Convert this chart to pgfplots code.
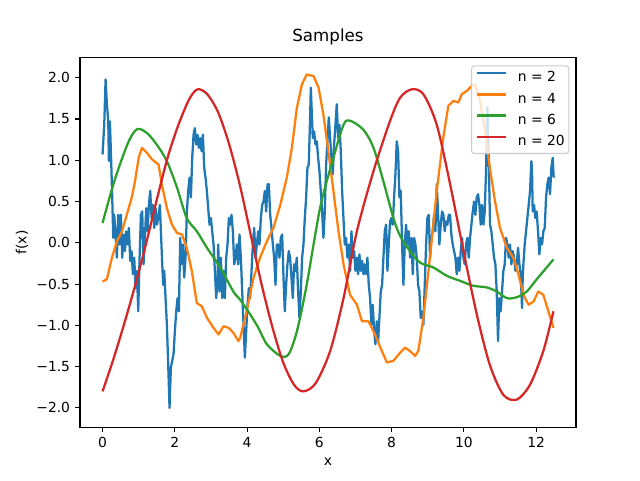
\documentclass[border=0pt]{standalone}
\usepackage{pgfplots}
\pgfplotsset{compat=1.18}
\usepackage{fontspec}
\setmainfont{DejaVu Sans}
\definecolor{c0}{HTML}{1F77B4}
\definecolor{c1}{HTML}{FF7F0E}
\definecolor{c2}{HTML}{2CA02C}
\definecolor{c3}{HTML}{D62728}
\newcommand{\tickfont}{\fontsize{10.4}{12.5}\selectfont}
\begin{document}
\begin{tikzpicture}[x=1pt,y=1pt]
\useasboundingbox (0,0) rectangle (480,360);
\begin{axis}[
  at={(60pt,39.6pt)}, anchor=south west,
  width=372pt, height=277.2pt, scale only axis,
  xmin=-0.624, xmax=13.104, ymin=-2.234, ymax=2.244,
  axis line style={line width=0.83pt},
  tick align=outside, tick pos=left,
  tick style={line width=0.83pt, black},
  major tick length=3.65pt,
  xtick={0,2,4,6,8,10,12}, xticklabels={0,2,4,6,8,10,12},
  ytick={-2,-1.5,-1,-0.5,0,0.5,1,1.5,2},
  yticklabels={−2.0,−1.5,−1.0,−0.5,0.0,0.5,1.0,1.5,2.0},
  tick label style={font=\tickfont},
  xticklabel style={inner sep=0pt, anchor=north, yshift=-3.6pt},
  yticklabel style={inner sep=0pt, anchor=east, xshift=-3.6pt},
  title={Samples},
  title style={at={(axis description cs:0.5,1.0225)}, anchor=base, inner sep=0pt, font=\fontsize{12.5}{15}\selectfont},
  xlabel={x},
  xlabel style={at={(axis description cs:0.5,-0.1025)}, anchor=base, inner sep=0pt, font=\tickfont},
  ylabel={f(x)},
  ylabel style={at={(axis description cs:-0.117,0.5)}, anchor=center, inner sep=0pt, font=\tickfont},
  legend cell align=left,
  legend style={at={(axis description cs:1,1)}, anchor=north east, xshift=-5pt, yshift=-5.8pt,
    draw=black!20, line width=0.8pt, rounded corners=2pt, fill=white, fill opacity=0.8, text opacity=1,
    font=\tickfont, inner xsep=3pt, inner ysep=4pt, row sep=5.9pt,
    nodes={inner sep=0pt, text height=8pt, text depth=2pt},
    /tikz/every odd column/.append style={column sep=8pt}},
  legend image code/.code={\draw[#1, line width=1.7pt] (0pt,3.5pt) -- (22pt,3.5pt);},
  every axis plot/.append style={line width=1.7pt, line join=round},
]
\addplot[c0] coordinates {
(0.000,1.07) (0.047,1.43) (0.084,1.98) (0.121,1.68) (0.158,1.47) (0.176,0.99) (0.204,1.47) (0.231,1.11) (0.268,0.55) (0.296,0.06) (0.323,0.34) (0.360,0.10) (0.397,-0.18) (0.434,0.34) (0.471,-0.02) (0.508,0.34) (0.545,-0.18) (0.582,0.10) (0.619,-0.10) (0.655,0.14) (0.692,-0.02) (0.729,0.18) (0.766,-0.22) (0.803,-0.10) (0.840,-0.38) (0.877,-0.18) (0.914,-0.55) (0.951,-0.34) (0.988,-0.83) (1.025,-0.18) (1.061,0.34) (1.098,0.38) (1.135,-0.26) (1.172,0.06) (1.209,0.42) (1.246,0.14) (1.283,0.46) (1.320,0.63) (1.357,0.30) (1.394,0.46) (1.431,0.18) (1.467,0.42) (1.504,0.22)
(1.541,0.30) (1.587,0.46) (1.615,0.14) (1.652,-0.26) (1.679,-0.51) (1.707,-0.34) (1.744,-0.67) (1.781,-0.99) (1.818,-1.48) (1.854,-2.00) (1.891,-1.51) (1.928,-1.43) (1.965,-1.35) (2.002,-1.07) (2.039,-0.83) (2.076,-0.67) (2.113,-0.83) (2.150,0.06) (2.186,-0.26) (2.223,-0.02) (2.260,-0.42) (2.297,-0.18) (2.334,0.38) (2.371,0.63) (2.408,0.79) (2.445,0.55) (2.482,1.03) (2.519,1.31) (2.555,1.39) (2.592,1.19) (2.629,1.31) (2.666,1.15) (2.703,1.27) (2.740,1.11) (2.777,1.31) (2.814,0.91) (2.850,0.79) (2.887,0.63) (2.924,0.42) (2.961,0.22) (2.998,0.30) (3.035,0.14) (3.072,-0.02) (3.109,-0.34) (3.146,-0.67) (3.183,-0.46)
(3.201,-0.02) (3.238,-0.59) (3.275,-0.18) (3.312,-0.67) (3.349,-0.34) (3.385,-0.67) (3.422,-0.18) (3.459,-0.02) (3.496,0.30) (3.533,0.22) (3.570,0.34) (3.607,0.14) (3.644,-0.26) (3.680,-0.18) (3.717,-0.02) (3.754,-0.26) (3.791,0.10) (3.828,-0.18) (3.865,-0.59) (3.902,-0.99) (3.939,-1.39) (3.976,-1.07) (4.012,-0.75) (4.049,-0.55) (4.086,-0.67) (4.123,-0.34) (4.160,-0.02) (4.197,0.18) (4.234,-0.18) (4.271,-0.02) (4.308,0.14) (4.344,-0.02) (4.381,0.30) (4.418,0.46) (4.455,0.50) (4.492,0.63) (4.529,0.38) (4.566,0.71) (4.603,0.71) (4.640,0.34) (4.676,0.18) (4.713,-0.02) (4.750,-0.18) (4.787,-0.51) (4.824,-0.02)
(4.860,-0.02) (4.897,-0.18) (4.934,0.06) (4.971,0.10) (5.008,-0.42) (5.044,-0.83) (5.081,-0.51) (5.118,-0.26) (5.155,-0.10) (5.192,-0.18) (5.229,-0.42) (5.266,-0.67) (5.303,-0.26) (5.340,-0.34) (5.376,-0.18) (5.413,-0.59) (5.450,-0.91) (5.487,-0.59) (5.524,-0.18) (5.561,-0.02) (5.598,0.30) (5.635,0.55) (5.671,0.91) (5.708,0.95) (5.745,1.52) (5.764,1.88) (5.782,1.68) (5.819,1.27) (5.856,1.35) (5.893,1.19) (5.930,1.23) (5.967,1.03) (6.003,0.87) (6.040,0.63) (6.077,0.38) (6.114,0.06) (6.151,0.38) (6.188,0.95) (6.225,1.23) (6.262,1.52) (6.299,1.27) (6.335,1.03) (6.372,0.83) (6.409,1.19) (6.446,1.43) (6.483,1.68)
(6.520,1.27) (6.557,1.43) (6.594,1.11) (6.631,0.63) (6.668,0.30) (6.704,-0.02) (6.741,0.06) (6.778,-0.18) (6.815,-0.02) (6.852,-0.34) (6.889,0.14) (6.926,-0.18) (6.963,-0.10) (7.000,-0.34) (7.036,-0.18) (7.073,-0.38) (7.110,-0.14) (7.147,-0.34) (7.184,-0.22) (7.221,-0.38) (7.258,-0.26) (7.295,-0.38) (7.331,-0.18) (7.368,-0.51) (7.405,-0.67) (7.442,-0.99) (7.479,-0.75) (7.516,-1.07) (7.553,-1.23) (7.590,-0.95) (7.627,-1.19) (7.663,-0.91) (7.700,-0.59) (7.737,-0.51) (7.774,-0.18) (7.811,0.14) (7.848,0.22) (7.885,-0.34) (7.922,-0.02) (7.958,0.26) (7.995,0.30) (8.032,0.22) (8.069,0.55) (8.106,0.83) (8.143,1.23)
(8.180,1.11) (8.217,0.55) (8.254,0.63) (8.291,-0.02) (8.328,-0.51) (8.364,-0.02) (8.401,0.22) (8.438,-0.02) (8.475,0.14) (8.512,-0.18) (8.549,0.06) (8.586,-0.38) (8.623,0.06) (8.659,-0.02) (8.696,-0.18) (8.733,-0.51) (8.770,-0.59) (8.807,-0.91) (8.844,-0.83) (8.881,-0.99) (8.918,-0.51) (8.955,-0.02) (8.991,0.30) (9.028,0.34) (9.065,-0.18) (9.102,0.06) (9.139,0.14) (9.176,0.34) (9.213,0.14) (9.250,0.71) (9.287,0.34) (9.323,-0.02) (9.360,0.22) (9.397,0.38) (9.434,0.34) (9.471,0.14) (9.508,0.26) (9.545,0.22) (9.582,0.34) (9.618,0.34) (9.655,0.10) (9.692,-0.02) (9.729,-0.10) (9.766,-0.18) (9.803,-0.38)
(9.840,-0.18) (9.877,-0.34) (9.914,-0.10) (9.951,0.06) (9.988,-0.18) (10.024,-0.26) (10.061,-0.02) (10.098,0.06) (10.135,-0.18) (10.172,0.06) (10.209,0.22) (10.246,0.38) (10.283,0.50) (10.319,0.34) (10.356,0.55) (10.393,0.59) (10.430,0.46) (10.467,0.22) (10.504,0.46) (10.541,0.22) (10.578,0.38) (10.614,0.87) (10.651,1.64) (10.670,1.31) (10.688,1.03) (10.725,0.22) (10.762,0.14) (10.799,-0.02) (10.836,-0.18) (10.873,-0.26) (10.910,-0.59) (10.946,-1.19) (10.983,-0.67) (11.020,-0.83) (11.057,-0.59) (11.094,-0.34) (11.131,-0.26) (11.168,0.06) (11.205,-0.02) (11.242,-0.18) (11.278,-0.02) (11.315,-0.26) (11.352,-0.10) (11.389,-0.18) (11.426,-0.34) (11.463,-0.26)
(11.500,-0.06) (11.537,-0.26) (11.574,-0.38) (11.611,-0.79) (11.629,-0.42) (11.648,-0.26) (11.684,-0.02) (11.721,0.14) (11.758,0.30) (11.795,0.46) (11.832,0.63) (11.869,0.99) (11.887,0.87) (11.906,0.38) (11.943,0.46) (11.979,0.30) (12.016,0.38) (12.053,0.14) (12.090,-0.14) (12.127,0.06) (12.164,-0.02) (12.201,0.14) (12.238,0.18) (12.275,0.55) (12.311,0.71) (12.348,0.79) (12.385,0.59) (12.422,0.91) (12.459,1.03) (12.487,0.79)
};
\addlegendentry{n = 2}
\addplot[c1] coordinates {
(0,-0.47) (0.12,-0.44) (0.26,-0.18) (0.40,0.02) (0.54,0.14) (0.67,0.34) (0.81,0.55) (0.90,0.75) (1.00,1.03) (1.09,1.15) (1.23,1.09) (1.37,1.01) (1.55,0.95) (1.64,0.71) (1.78,0.42) (1.92,0.22) (2.06,0.12) (2.20,0.10) (2.33,-0.06) (2.47,-0.34) (2.61,-0.73) (2.75,-0.77) (2.89,-0.91) (3.07,-1.03) (3.21,-1.11) (3.35,-1.01) (3.49,-1.03) (3.62,-1.09) (3.76,-1.19) (3.81,-1.15) (3.99,-0.83) (4.18,-0.42) (4.36,-0.18) (4.55,0.02) (4.73,0.18) (4.92,0.46) (5.10,0.79) (5.24,1.15) (5.38,1.64) (5.52,1.92) (5.65,2.04) (5.84,2.02) (5.98,1.88) (6.11,1.56) (6.25,1.11) (6.39,0.63) (6.53,0.14) (6.67,-0.26) (6.85,-0.63) (7.04,-0.75) (7.18,-0.95) (7.36,-0.95) (7.54,-1.11) (7.73,-1.31) (7.87,-1.45) (8.05,-1.43) (8.24,-1.33) (8.37,-1.27) (8.51,-1.31) (8.65,-1.37) (8.74,-1.31) (8.88,-0.91) (9.06,-0.18) (9.25,0.63) (9.43,1.27) (9.57,1.66) (9.71,1.72) (9.85,1.70) (9.94,1.80) (10.08,1.84) (10.22,1.90) (10.31,1.92) (10.45,1.72) (10.59,1.35) (10.72,0.91) (10.86,0.51) (11.00,0.18) (11.19,-0.06) (11.37,-0.18) (11.51,-0.38) (11.65,-0.63) (11.79,-0.75) (11.93,-0.71) (12.06,-0.59) (12.20,-0.63) (12.34,-0.83) (12.48,-1.03)
};
\addlegendentry{n = 4}
\addplot[c2, smooth, tension=0.5] coordinates {
(0,0.24) (0.30,0.71) (0.58,1.07) (0.77,1.27) (0.97,1.38) (1.23,1.33) (1.50,1.19) (1.78,0.99) (2.06,0.67) (2.33,0.30) (2.61,0.14) (2.89,-0.06) (3.26,-0.30) (3.62,-0.59) (3.81,-0.69) (4.09,-0.87) (4.30,-1.02) (4.55,-1.23) (4.92,-1.37) (5.15,-1.35) (5.38,-1.07) (5.65,-0.51) (6.02,0.42) (6.39,1.03) (6.67,1.43) (6.85,1.48) (7.22,1.37) (7.50,1.15) (7.77,0.75) (8.05,0.30) (8.24,0.08) (8.51,-0.10) (8.79,-0.24) (9.16,-0.30) (9.53,-0.40) (9.89,-0.46) (10.26,-0.52) (10.63,-0.54) (10.91,-0.59) (11.19,-0.67) (11.46,-0.66) (11.74,-0.59) (12.02,-0.44) (12.29,-0.30) (12.48,-0.20)
};
\addlegendentry{n = 6}
\addplot[c3, smooth, tension=0.5] coordinates {
(0,-1.80) (0.3,-1.41) (0.6,-0.98) (0.9,-0.52) (1.2,-0.02) (1.5,0.52) (1.8,1.03) (2.1,1.43) (2.4,1.74) (2.63,1.86) (2.9,1.80) (3.2,1.58) (3.5,1.20) (3.8,0.70) (4.1,0.10) (4.4,-0.50) (4.7,-1.02) (5.0,-1.45) (5.3,-1.72) (5.56,-1.80) (5.9,-1.70) (6.3,-1.31) (6.67,-0.67) (7.04,0.14) (7.5,0.87) (7.96,1.48) (8.24,1.76) (8.56,1.86) (8.88,1.80) (9.25,1.43) (9.62,0.71) (9.99,-0.10) (10.36,-0.87) (10.72,-1.48) (11.09,-1.84) (11.46,-1.90) (11.83,-1.72) (12.2,-1.31) (12.48,-0.83)
};
\addlegendentry{n = 20}
\end{axis}
\end{tikzpicture}
\end{document}
